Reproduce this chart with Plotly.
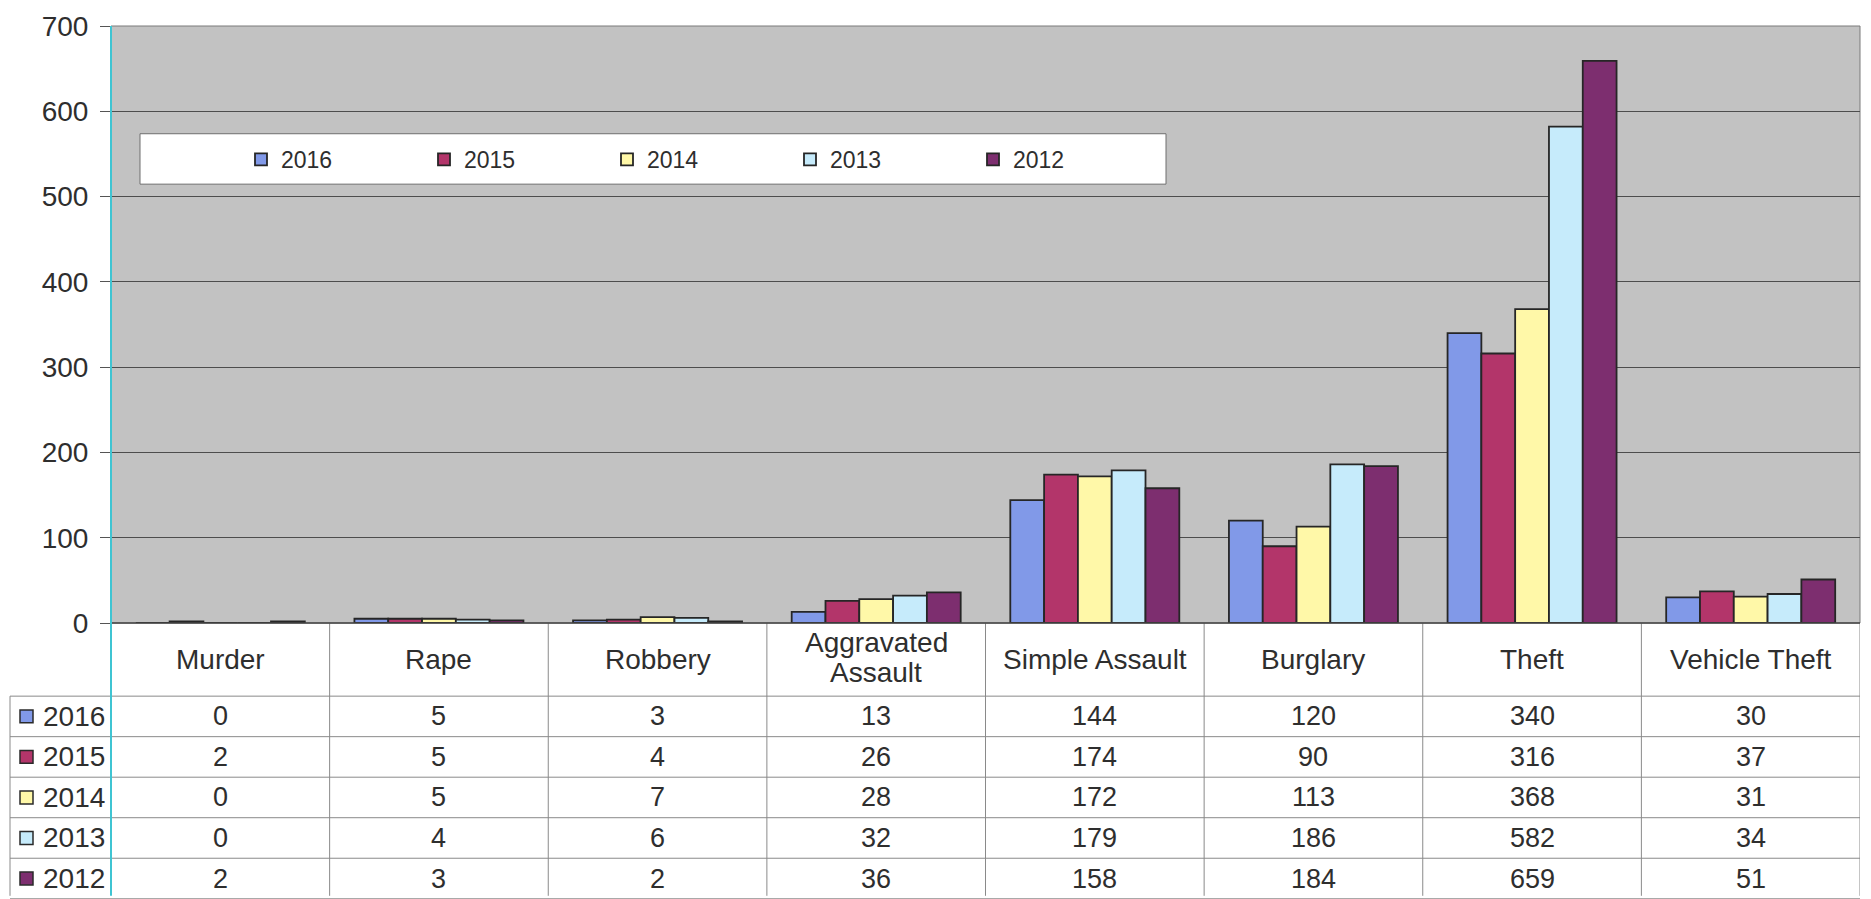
import plotly.graph_objects as go

categories = ["Murder", "Rape", "Robbery", "Aggravated Assault", "Simple Assault",
              "Burglary", "Theft", "Vehicle Theft"]
years = ["2016", "2015", "2014", "2013", "2012"]
v2016 = [0, 5, 3, 13, 144, 120, 340, 30]
v2015 = [2, 5, 4, 26, 174, 90, 316, 37]
v2014 = [0, 5, 7, 28, 172, 113, 368, 31]
v2013 = [0, 4, 6, 32, 179, 186, 582, 34]
v2012 = [2, 3, 2, 36, 158, 184, 659, 51]
series = [v2016, v2015, v2014, v2013, v2012]
colors = ["#8199e8", "#b3356a", "#fff8a8", "#c6ebfb", "#7d2e6f"]
y_ticks = [0, 100, 200, 300, 400, 500, 600, 700]

W, H = 1871, 899
ML, MR, MT = 111, 11, 19
Y0 = 623
PW = W - ML - MR
PH = Y0 - MT
MB = H - Y0

def px_x(px):
    return (px - ML) / PW

def px_y(py):
    return (Y0 - py) / PH

FONT = "Liberation Sans, Arial, sans-serif"
TXT = "#2e2e2e"
LINE = "#8a8a8a"

fig = go.Figure()
for yr, vals, col in zip(years, series, colors):
    fig.add_trace(go.Bar(x=categories, y=vals, name=yr,
                         marker=dict(color=col, line=dict(color="#262626", width=1.8))))

shapes = []
annotations = []

# legend box
shapes.append(dict(type="rect", xref="paper", yref="paper",
                   x0=px_x(140), x1=px_x(1166), y0=px_y(179), y1=px_y(128),
                   fillcolor="white", line=dict(color="#6e6e6e", width=1), layer="above"))

# plot border
shapes.append(dict(type="rect", xref="paper", yref="paper", x0=0, x1=1, y0=0, y1=1,
                   line=dict(color="#7a7a7a", width=1), layer="below"))

# table geometry
header_bottom = 697
row_h = 41
row_lines = [header_bottom + i * row_h for i in range(6)]
table_bottom = H
n = len(categories)

for i in range(n):
    shapes.append(dict(type="line", xref="x", yref="paper", x0=i + 0.5, x1=i + 0.5,
                       y0=px_y(Y0), y1=px_y(table_bottom), line=dict(color=LINE, width=1),
                       layer="above"))
shapes.append(dict(type="line", xref="paper", yref="paper", x0=px_x(10), x1=px_x(10),
                   y0=px_y(header_bottom), y1=px_y(table_bottom), line=dict(color=LINE, width=1),
                   layer="above"))
for ry in row_lines:
    shapes.append(dict(type="line", xref="paper", yref="paper",
                       x0=px_x(10), x1=1, y0=px_y(ry), y1=px_y(ry),
                       line=dict(color=LINE, width=1), layer="above"))
shapes.append(dict(type="line", xref="paper", yref="paper", x0=0, x1=1,
                   y0=0, y1=0, line=dict(color="#444444", width=1.5), layer="above"))
shapes.append(dict(type="line", xref="paper", yref="paper", x0=0, x1=0,
                   y0=1, y1=px_y(table_bottom), line=dict(color="#3fc4d2", width=2),
                   layer="above"))

for i, cat in enumerate(categories):
    words = cat.split(" ")
    if len(cat) > 15 and len(words) > 1:
        lines = [" ".join(words[:-1]), words[-1]]
        centers = [643, 673]
    else:
        lines = [cat]
        centers = [660]
    for ln, cy in zip(lines, centers):
        annotations.append(dict(xref="x", yref="paper", x=i, y=px_y(cy), text=ln,
                                showarrow=False, xanchor="center", yanchor="middle",
                                font=dict(size=28, color=TXT, family=FONT)))

for r, (yr, vals, col) in enumerate(zip(years, series, colors)):
    cy = header_bottom + r * row_h + row_h / 2
    shapes.append(dict(type="rect", xref="paper", yref="paper",
                       x0=px_x(20), x1=px_x(33), y0=px_y(cy + 6.5), y1=px_y(cy - 6.5),
                       fillcolor=col, line=dict(color="#2a2a2a", width=1.5), layer="above"))
    annotations.append(dict(xref="paper", yref="paper", x=px_x(41), y=px_y(cy), text=yr,
                            showarrow=False, xanchor="left", yanchor="middle",
                            font=dict(size=28, color=TXT, family=FONT)))
    for i, v in enumerate(vals):
        annotations.append(dict(xref="x", yref="paper", x=i, y=px_y(cy), text=str(v),
                                showarrow=False, xanchor="center", yanchor="middle",
                                font=dict(size=27, color=TXT, family=FONT)))

fig.update_layout(
    width=W, height=H,
    margin=dict(l=ML, r=MR, t=MT, b=MB, pad=0),
    paper_bgcolor="white",
    plot_bgcolor="#c2c2c2",
    barmode="group",
    bargap=0.227,
    bargroupgap=0,
    font=dict(family=FONT, color=TXT),
    showlegend=True,
    legend=dict(orientation="h", x=px_x(241), y=px_y(154), xanchor="left", yanchor="middle",
                bgcolor="rgba(0,0,0,0)", borderwidth=0, entrywidth=138, entrywidthmode="pixels",
                font=dict(size=23, color=TXT, family=FONT), traceorder="normal"),
    xaxis=dict(range=[-0.5, n - 0.5], showticklabels=False, ticks="", showgrid=False,
               showline=False, zeroline=False, fixedrange=True),
    yaxis=dict(range=[0, 700], tickvals=y_ticks, ticks="outside", ticklen=10,
               tickcolor="#555555", tickwidth=1, showgrid=True, gridcolor="#4d4d4d",
               gridwidth=1, zeroline=False, showline=False, ticklabelstandoff=6,
               tickfont=dict(size=28, color=TXT, family=FONT)),
    shapes=shapes,
    annotations=annotations,
)

fig.write_html("out.html", config={"displayModeBar": False},
               post_script="document.body.style.margin='0px';document.body.style.overflow='hidden';")
